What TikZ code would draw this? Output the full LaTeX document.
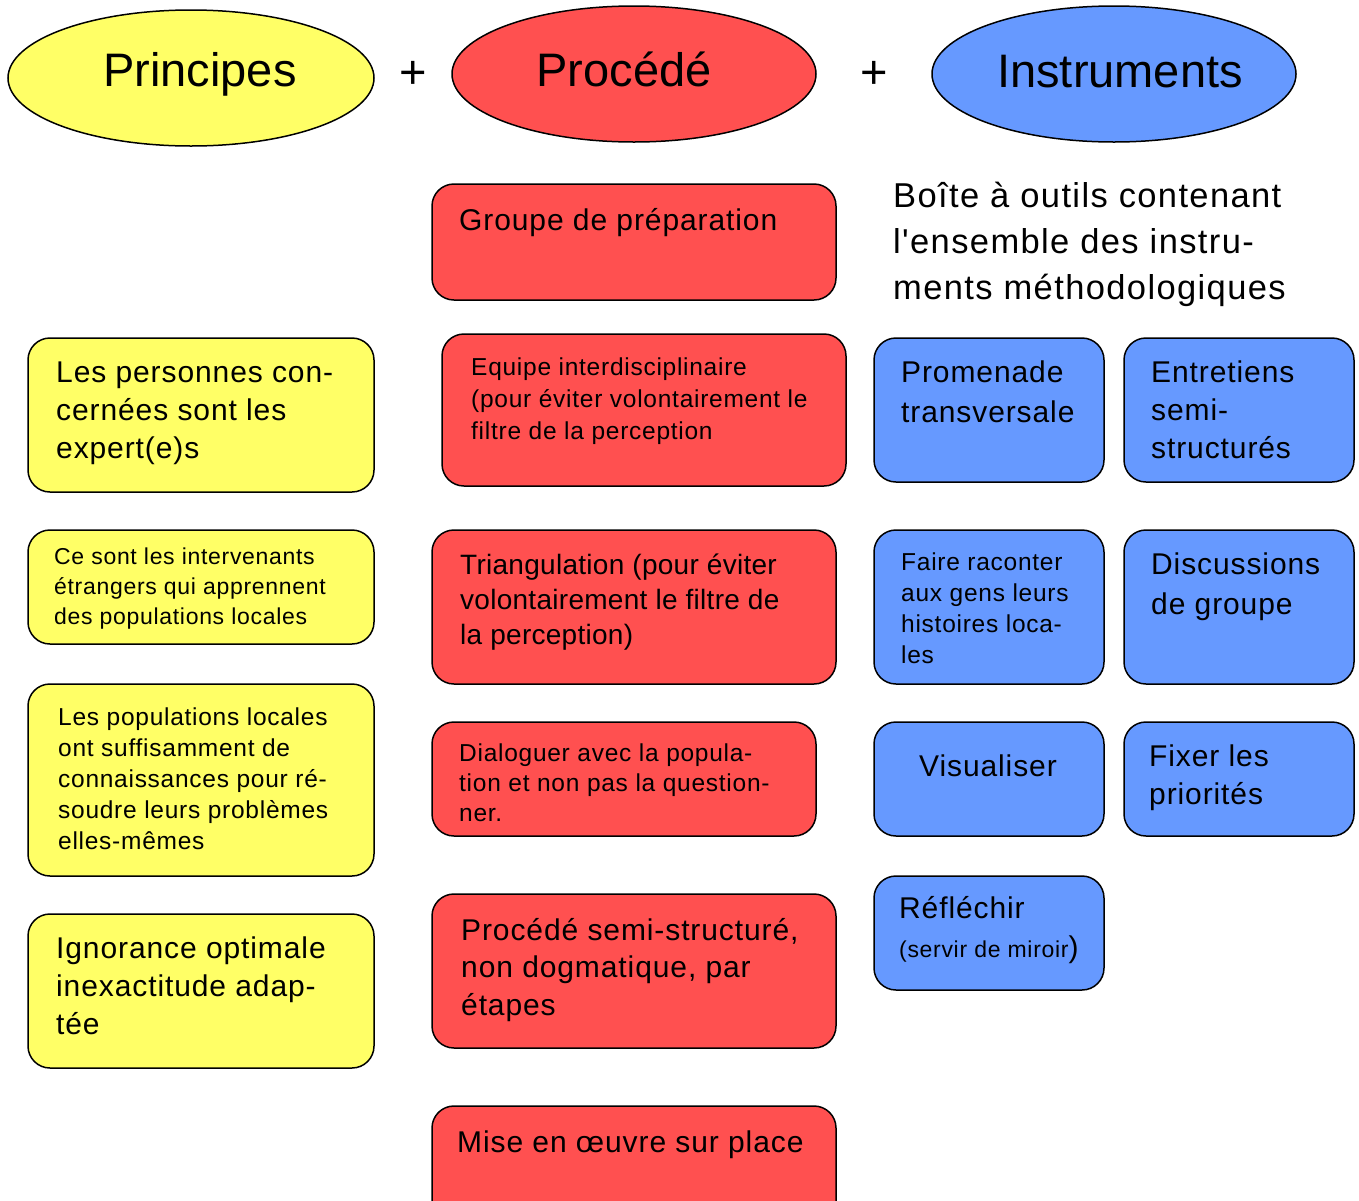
\documentclass[tikz,border=0pt]{standalone}
\usepackage{fontspec}
\setmainfont{Liberation Sans}[Ligatures=TeXOff]
\usetikzlibrary{shapes.geometric}
\definecolor{cyel}{HTML}{FFFF66}
\definecolor{cred}{HTML}{FF5050}
\definecolor{cblu}{HTML}{6699FF}
\newcommand{\fbig}{\addfontfeatures{LetterSpace=3}\fontsize{30}{38}\selectfont}
\newcommand{\fsmall}{\addfontfeatures{LetterSpace=3}\fontsize{24.5}{31}\selectfont}
\tikzset{
  oval/.style={ellipse, draw=black, line width=1.5pt, inner sep=0pt},
  boxy/.style={draw=black, line width=1.5pt, rounded corners=22pt, inner sep=0pt},
  ybox/.style={boxy, fill=cyel},
  rbox/.style={boxy, fill=cred},
  bbox/.style={boxy, fill=cblu},
  txt/.style={anchor=base west, align=left, inner sep=0pt, text=black},
  big/.style={txt, font=\fbig},
  small/.style={txt, font=\fsmall},
  title/.style={font=\fontsize{47}{50}\selectfont, inner sep=0pt, anchor=base},
}
\begin{document}
\begin{tikzpicture}[x=1pt,y=-1pt]
\useasboundingbox (0,0) rectangle (1359,1200);
% ellipses
\node[oval, fill=cyel, minimum width=366pt, minimum height=136pt] (e1) at (191,78) {};
\node[oval, fill=cred, minimum width=364pt, minimum height=136pt] (e2) at (634,74) {};
\node[oval, fill=cblu, minimum width=364pt, minimum height=136pt] (e3) at (1114,74) {};
\node[title] (t1) at (200,86) {Principes};
\node[title] (t2) at (624,86) {Procédé};
\node[title] (t3) at (1120,87) {Instruments};
\node[title] (p1) at (413,88) {+};
\node[title] (p2) at (874,88) {+};
% red boxes
\path[rbox] (432,184) rectangle (836,300) node[pos=0] (r1) {};
\node[big] (r1t) at (459,230) {Groupe de préparation};
\path[rbox] (442,334) rectangle (846,486) node[pos=0] (r2) {};
\node[small, font=\addfontfeatures{LetterSpace=3}\fontsize{24.5}{32}\selectfont] (r2t) at (471,439) {Equipe interdisciplinaire\\(pour éviter volontairement le\\filtre de la perception};
\path[rbox] (432,530) rectangle (836,684) node[pos=0] (r3) {};
\node[big, font=\addfontfeatures{LetterSpace=1}\fontsize{28}{35}\selectfont] (r3t) at (460,644) {Triangulation (pour éviter\\volontairement le filtre de\\la perception)};
\path[rbox] (432,722) rectangle (816,836) node[pos=0] (r4) {};
\node[small, font=\addfontfeatures{LetterSpace=3}\fontsize{24.5}{30}\selectfont] (r4t) at (459,821) {Dialoguer avec la popula-\\tion et non pas la question-\\ner.};
\path[rbox] (432,894) rectangle (836,1048) node[pos=0] (r5) {};
\node[big, font=\addfontfeatures{LetterSpace=3}\fontsize{30}{37.5}\selectfont] (r5t) at (461,1015) {Procédé semi-structuré,\\non dogmatique, par\\étapes};
\path[rbox] (432,1106) rectangle (836,1230) node[pos=0] (r6) {};
\node[big] (r6t) at (457,1152) {Mise en œuvre sur place};
% yellow boxes
\path[ybox] (28,338) rectangle (374,492) node[pos=0] (y1) {};
\node[big] (y1t) at (56,458) {Les personnes con-\\cernées sont les\\expert(e)s};
\path[ybox] (28,530) rectangle (374,644) node[pos=0] (y2) {};
\node[small, font=\addfontfeatures{LetterSpace=3}\fontsize{23}{30}\selectfont] (y2t) at (54,624) {Ce sont les intervenants\\étrangers qui apprennent\\des populations locales};
\path[ybox] (28,684) rectangle (374,876) node[pos=0] (y3) {};
\node[small, font=\addfontfeatures{LetterSpace=3}\fontsize{24.5}{31}\selectfont] (y3t) at (58,849) {Les populations locales\\ont suffisamment de\\connaissances pour ré-\\soudre leurs problèmes\\elles-mêmes};
\path[ybox] (28,914) rectangle (374,1068) node[pos=0] (y4) {};
\node[big] (y4t) at (56,1034) {Ignorance optimale\\inexactitude adap-\\tée};
% blue text
\node[txt, font=\addfontfeatures{LetterSpace=4}\fontsize{34.5}{46}\selectfont] (bt) at (893,299) {Boîte à outils contenant\\l'ensemble des instru-\\ments méthodologiques};
% blue boxes
\path[bbox] (874,338) rectangle (1104,482) node[pos=0] (b1) {};
\node[big, font=\addfontfeatures{LetterSpace=3}\fontsize{30}{40}\selectfont] (b1t) at (901,422) {Promenade\\transversale};
\path[bbox] (1124,338) rectangle (1354,482) node[pos=0] (b2) {};
\node[big] (b2t) at (1151,458) {Entretiens\\semi-\\structurés};
\path[bbox] (874,530) rectangle (1104,684) node[pos=0] (b3) {};
\node[small, font=\addfontfeatures{LetterSpace=3}\fontsize{24.5}{31}\selectfont] (b3t) at (901,663) {Faire raconter\\aux gens leurs\\histoires loca-\\les};
\path[bbox] (1124,530) rectangle (1354,684) node[pos=0] (b4) {};
\node[big, font=\addfontfeatures{LetterSpace=3}\fontsize{30}{40}\selectfont] (b4t) at (1151,614) {Discussions\\de groupe};
\path[bbox] (874,722) rectangle (1104,836) node[pos=0] (b5) {};
\node[big] (b5t) at (919,776) {Visualiser};
\path[bbox] (1124,722) rectangle (1354,836) node[pos=0] (b6) {};
\node[big] (b6t) at (1149,804) {Fixer les\\priorités};
\path[bbox] (874,876) rectangle (1104,990) node[pos=0] (b7) {};
\node[big] (b7t) at (899,918) {Réfléchir};
\node[small, font=\addfontfeatures{LetterSpace=3}\fontsize{23}{30}\selectfont] (b7s) at (899,957) {(servir de miroir{\fontsize{30}{30}\selectfont )}};
\end{tikzpicture}
\end{document}
